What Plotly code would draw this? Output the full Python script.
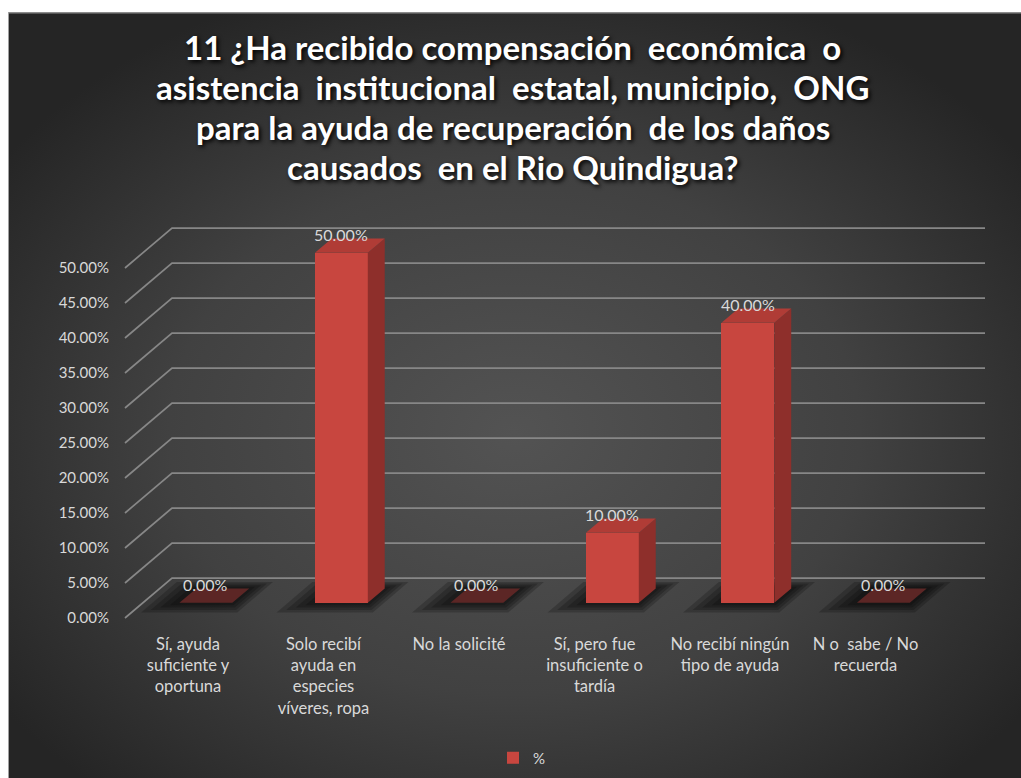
import base64
import plotly.graph_objects as go

# ---- data ----
categories = [
    "Sí, ayuda<br>suficiente y<br>oportuna",
    "Solo recibí<br>ayuda en<br>especies<br>víveres, ropa",
    "No la solicité",
    "Sí, pero fue<br>insuficiente o<br>tardía",
    "No recibí ningún<br>tipo de ayuda",
    "N o\u00a0\u00a0sabe / No<br>recuerda",
]
values = [0.0, 0.50, 0.0, 0.10, 0.40, 0.0]
y_ticks = [0.0, 0.05, 0.10, 0.15, 0.20, 0.25, 0.30, 0.35, 0.40, 0.45, 0.50]
series_name = "%"
title_lines = [
    "11 ¿Ha recibido compensación\u00a0 económica\u00a0 o",
    "asistencia\u00a0 institucional\u00a0 estatal, municipio,\u00a0 ONG",
    "para la ayuda de recuperación\u00a0 de los daños",
    "causados\u00a0 en el Rio Quindigua?",
]

# ---- page geometry ----
W, H = 1021, 778
M_L, M_R, M_T, M_B = 112, 0, 195, 150
PLOT_W, PLOT_H = W - M_L - M_R, H - M_T - M_B
TITLE_TOP, TITLE_STEP = 47, 40   # pixel centre of first title line, line pitch

# oblique projection of the 3D floor: depth 0 = front edge, 1 = back wall
KX = 0.347    # x shift (category units) over full depth
KY = 0.0571   # y shift (value units) over full depth
D_FRONT, D_BACK = 0.38, 0.74
BAR_W = 0.39
WALL_X0, WALL_X1 = -0.465, 5.535

X_RANGE = [(M_L - 188) / 135.5, (W - M_R - 188) / 135.5]
Y_RANGE = [(618 - (H - M_B)) / 700, (618 - M_T) / 700]

FRONT_C = "#c8463f"
SIDE_C = "#8e2f2b"
TOP_C = "#b03c36"
FLAT_C = "#5c2625"
TEXT_C = "#d9d9d9"
FONT = "Lato"


def proj(x, v, d):
    return x + d * KX, v + d * KY


def path(points):
    return "M " + " L ".join(f"{px:.5f},{py:.5f}" for px, py in points) + " Z"


def paper_y(py):
    return (H - M_B - py) / PLOT_H


fig = go.Figure()

# front faces of the bars
fig.add_trace(go.Bar(
    x=[i + D_FRONT * KX for i in range(len(values))],
    y=values,
    base=[D_FRONT * KY] * len(values),
    width=BAR_W,
    marker=dict(color=FRONT_C, line=dict(width=0)),
    name=series_name,
    showlegend=True,
    hoverinfo="skip",
))

shapes = []
# gridlines running along the left wall and across the back wall
for v in y_ticks:
    a = proj(WALL_X0, v, 0)
    b = proj(WALL_X0, v, 1)
    c = proj(WALL_X1, v, 1)
    shapes.append(dict(type="path", xref="x", yref="y", layer="below",
                       path=f"M {a[0]},{a[1]} L {b[0]},{b[1]} L {c[0]},{c[1]}",
                       line=dict(color="#878787", width=1.7)))

# soft floor shadows under each bar
for i, v in enumerate(values):
    xl, xr = i - BAR_W / 2, i + BAR_W / 2
    for k in (4, 3, 2, 1):
        e = 0.05 * k
        df, db = D_FRONT - 0.06 * k, D_BACK + 0.04 * k
        pts = [proj(xl - e, 0, df), proj(xr + e * 0.6, 0, df),
               proj(xr + e * 0.6, 0, db), proj(xl - e, 0, db)]
        shapes.append(dict(type="path", xref="x", yref="y", layer="below",
                           path=path(pts), fillcolor="rgba(0,0,0,0.2)",
                           line=dict(width=0)))

# side and top faces
for i, v in enumerate(values):
    xl, xr = i - BAR_W / 2, i + BAR_W / 2
    side = [proj(xr, 0, D_FRONT), proj(xr, 0, D_BACK),
            proj(xr, v, D_BACK), proj(xr, v, D_FRONT), proj(xr, 0, D_FRONT)]
    top = [proj(xl, v, D_FRONT), proj(xr, v, D_FRONT),
           proj(xr, v, D_BACK), proj(xl, v, D_BACK), proj(xl, v, D_FRONT)]
    if v > 0:
        fig.add_trace(go.Scatter(
            x=[p[0] for p in side], y=[p[1] for p in side], mode="lines",
            fill="toself", fillcolor=SIDE_C, line=dict(width=0),
            showlegend=False, hoverinfo="skip"))
    fig.add_trace(go.Scatter(
        x=[p[0] for p in top], y=[p[1] for p in top], mode="lines",
        fill="toself", fillcolor=TOP_C if v > 0 else FLAT_C, line=dict(width=0),
        showlegend=False, hoverinfo="skip"))

annotations = []
# value labels above each bar
for i, v in enumerate(values):
    lx, ly = proj(i, v, D_BACK)
    annotations.append(dict(
        x=i + D_FRONT * KX, y=ly, xref="x", yref="y", text=f"{v:.2%}",
        showarrow=False, yanchor="middle", yshift=4,
        font=dict(family=FONT, size=16, color=TEXT_C)))

# chart title, one line per annotation for an even line pitch
for n, line in enumerate(title_lines):
    annotations.append(dict(
        x=0.5, xref="paper", xanchor="center",
        y=paper_y(TITLE_TOP + n * TITLE_STEP), yref="paper", yanchor="middle",
        text=line, showarrow=False,
        font=dict(family=FONT, size=33, color="white", weight="bold",
                  shadow="2px 2px 4px #000000")))
# the annotation x above is relative to the plot area; centre on the page instead
for a in annotations[len(values):]:
    a["x"] = (W / 2 + 2 - M_L) / PLOT_W

# dark radial backdrop
svg = (
    '<svg xmlns="http://www.w3.org/2000/svg" width="1013" height="766" '
    'viewBox="0 0 1013 766" preserveAspectRatio="none">'
    '<defs><radialGradient id="g" cx="50%" cy="55%" r="62%">'
    '<stop offset="0" stop-color="#535353"/>'
    '<stop offset="0.55" stop-color="#414141"/>'
    '<stop offset="1" stop-color="#252525"/>'
    '</radialGradient></defs>'
    '<rect width="1013" height="766" fill="url(#g)"/>'
    '<line x1="0" y1="0.75" x2="1013" y2="0.75" stroke="#8c8c8c" stroke-width="1.5"/>'
    '<line x1="0.5" y1="0" x2="0.5" y2="766" stroke="#a0a0a0" stroke-width="1"/>'
    '</svg>'
)
bg_src = "data:image/svg+xml;base64," + base64.b64encode(svg.encode()).decode()
PANEL_X, PANEL_Y = 8, 12

fig.update_layout(
    width=W, height=H,
    margin=dict(l=M_L, r=M_R, t=M_T, b=M_B, autoexpand=False),
    paper_bgcolor="white",
    plot_bgcolor="rgba(0,0,0,0)",
    images=[dict(
        source=bg_src, xref="paper", yref="paper",
        x=(PANEL_X - M_L) / PLOT_W, y=1 + (M_T - PANEL_Y) / PLOT_H,
        sizex=(W - PANEL_X) / PLOT_W, sizey=(H - PANEL_Y) / PLOT_H,
        xanchor="left", yanchor="top", sizing="stretch", layer="below")],
    shapes=shapes,
    annotations=annotations,
    xaxis=dict(
        range=X_RANGE, tickvals=list(range(len(categories))), ticktext=categories,
        showgrid=False, zeroline=False, showline=False, ticks="",
        ticklabelstandoff=4,
        tickfont=dict(family=FONT, size=16.5, color=TEXT_C), automargin=False,
        fixedrange=True,
    ),
    yaxis=dict(
        range=Y_RANGE, tickvals=y_ticks, tickformat=".2%",
        showgrid=False, zeroline=False, showline=False, ticks="",
        ticklabelstandoff=2,
        tickfont=dict(family=FONT, size=15, color=TEXT_C), automargin=False,
        fixedrange=True,
    ),
    legend=dict(
        orientation="h", x=(522 - M_L) / PLOT_W, xanchor="center",
        y=paper_y(758), yanchor="middle",
        bgcolor="rgba(0,0,0,0)", font=dict(family=FONT, size=15, color=TEXT_C),
        itemwidth=30,
    ),
    bargap=0,
    showlegend=True,
)

fig.write_html("out.html")
